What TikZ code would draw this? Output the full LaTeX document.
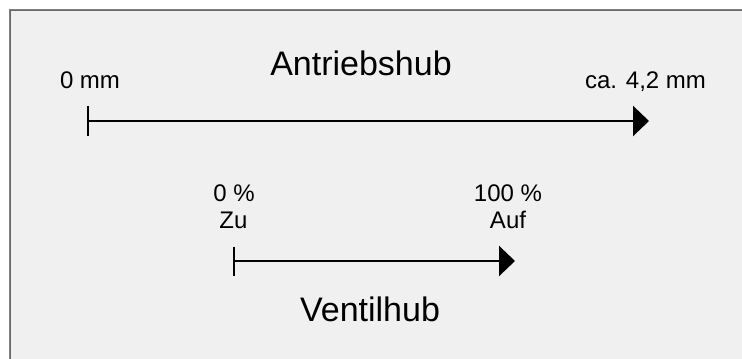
\documentclass[tikz,border=0pt]{standalone}
\usepackage{fontspec}
\setmainfont{Liberation Sans}
\usetikzlibrary{arrows.meta}
\definecolor{panel}{HTML}{F0F0F0}
\definecolor{frameline}{HTML}{696969}

\begin{document}
\begin{tikzpicture}[x=0.75pt,y=-0.75pt]

	\tikzstyle stroke lines=[line width=1.8pt];
	\tikzstyle stroke arrow=[stroke lines, -{Triangle[length=12pt,width=22.5pt]}];
	\tikzstyle small label=[font=\fontsize{18}{20.25}\selectfont, anchor=base, inner sep=0pt];
	\tikzstyle big label=[font=\fontsize{25.5}{30}\selectfont, anchor=base, inner sep=0pt];

	\useasboundingbox (0,0) rectangle (742,359);
	\fill[panel] (9,9) rectangle (742,359);
	\draw[gray] (9.5,359) -- (9.5,9.5) -- (742,9.5);
	\draw[frameline] (10.5,359) -- (10.5,10.5) -- (742,10.5);

	% Antriebshub
	\node[big label] (antrieb) at (361,75.5) {Antriebshub};
	\node[small label] (nullmm) at (90,88.6) {0 mm};
	\node[small label] (maxmm) at (645.5,89) {ca. 4,2 mm};
	\coordinate (hubstart) at (88,121);
	\coordinate (hubend) at (649,121);
	\draw[stroke arrow] (hubstart) -- (hubend);
	\draw[stroke lines] (88,106) -- (88,136);

	% Ventilhub
	\node[small label] (nullproz) at (234,201.6) {0 \%};
	\node[small label] (zu) at (233.5,228.6) {Zu};
	\node[small label] (vollproz) at (508,201.6) {100 \%};
	\node[small label] (auf) at (508,228.6) {Auf};
	\coordinate (ventilstart) at (234,261);
	\coordinate (ventilend) at (515,261);
	\draw[stroke arrow] (ventilstart) -- (ventilend);
	\draw[stroke lines] (234,247) -- (234,276);
	\node[big label] (ventil) at (370,322) {Ventilhub};

\end{tikzpicture}
\end{document}
